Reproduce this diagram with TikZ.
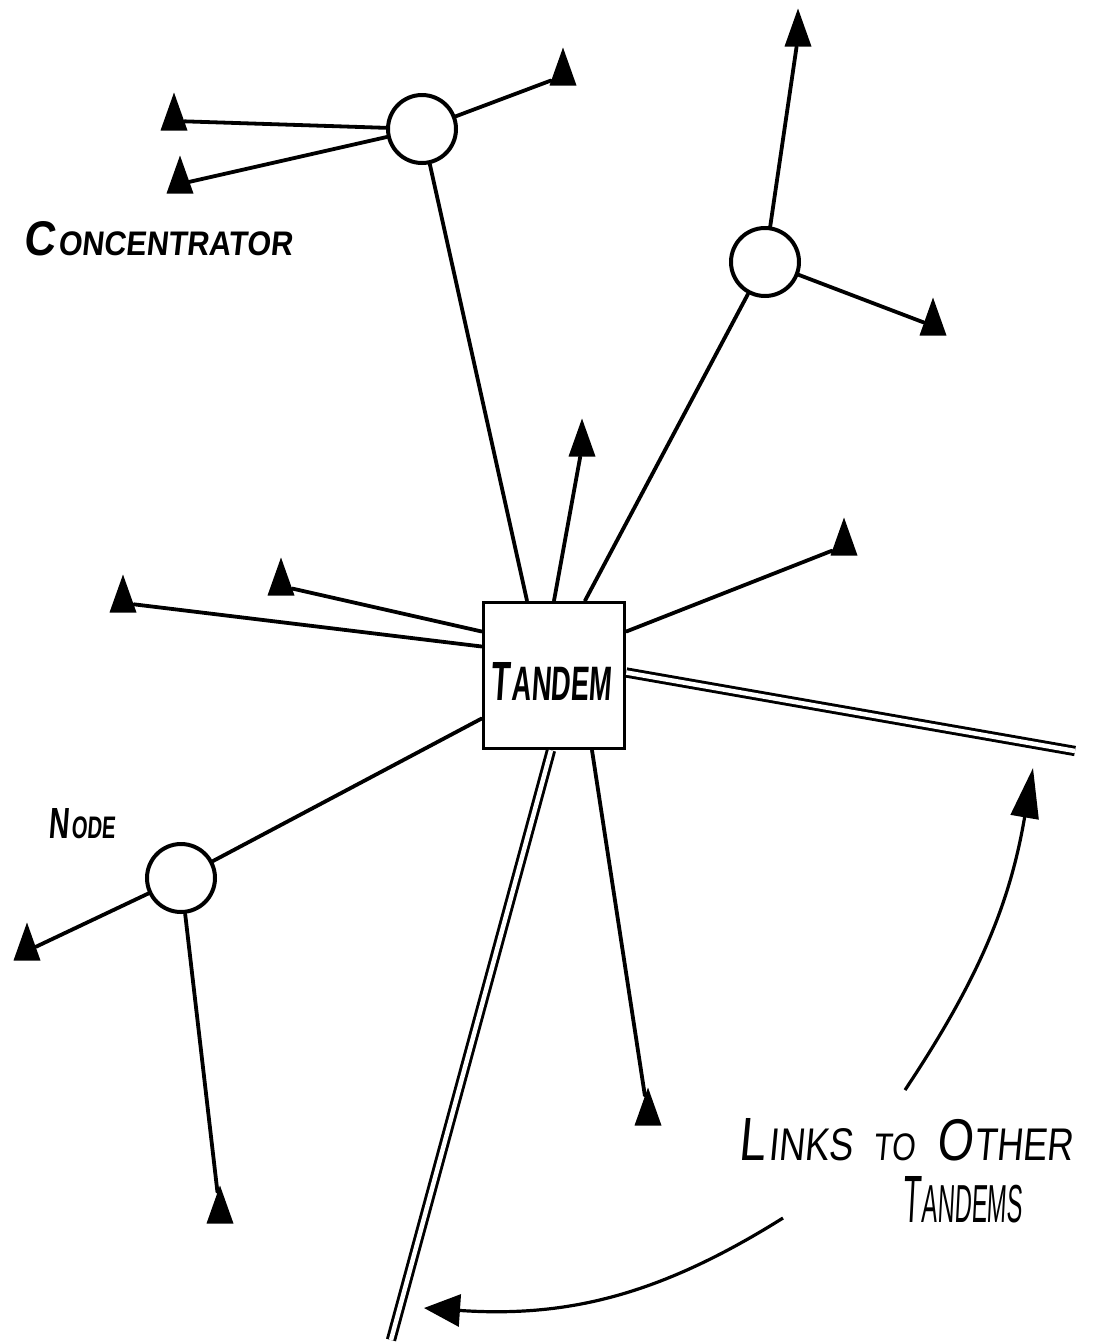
\documentclass[tikz,border=0pt]{standalone}
\usepackage{graphicx}
\usepackage{fontspec}
\newfontfamily\hand[FakeSlant=0.12]{Liberation Sans}
\newfontfamily\handbold[FakeSlant=0.12]{Liberation Sans Bold}
\usetikzlibrary{shapes.geometric,calc,arrows.meta}
\newcommand\capsz[2]{{\fontsize{#1}{#1}\selectfont #2}}
\begin{document}
\begin{tikzpicture}[x=1pt,y=-1pt,
  wire/.style={line width=3.8pt, line cap=round},
  trunk/.style={draw=black, line width=2.9pt, double=white, double distance=4.5pt},
  hub/.style={circle, draw, line width=4pt, minimum size=68pt, inner sep=0pt, fill=white},
  switchbox/.style={rectangle, draw, line width=3.6pt, minimum width=141pt, minimum height=146pt, inner sep=0pt, fill=white},
  term/.style={isosceles triangle, isosceles triangle stretches, shape border rotate=90,
    minimum width=27pt, minimum height=38pt, fill=black, inner sep=0pt, anchor=apex},
  lbl/.style={inner sep=0pt},
  pointer/.style={line width=3.2pt}]
\useasboundingbox (0,0) rectangle (1095,1342);

% central switch
\node[switchbox] (tandem) at (554,675.5) {};
\node[lbl] (tandemtxt) at (551,681) {\resizebox{120pt}{38pt}{\handbold\capsz{12}{T}\kern0.6pt\capsz{10.5}{ANDEM}}};

% concentrators and node
\node[hub] (conc1) at (422,129) {};
\node[hub] (conc2) at (765,262) {};
\node[hub] (nd) at (181,878) {};

% terminals
\node[term] (t1) at (174,92) {};
\node[term] (t2) at (180,155) {};
\node[term] (t3) at (563,47) {};
\node[term] (t4) at (798,8) {};
\node[term] (t5) at (933,297) {};
\node[term] (t6) at (582,418) {};
\node[term] (t7) at (844,517) {};
\node[term] (t8) at (123,574) {};
\node[term] (t9) at (281,557) {};
\node[term] (t10) at (648,1087) {};
\node[term] (t11) at (27,922) {};
\node[term] (t12) at (220,1185) {};

% concentrator links
\draw[wire] (conc1) -- (t1);
\draw[wire] (conc1) -- (t2);
\draw[wire] (conc1) -- (t3);
\draw[wire] (conc2) -- (t4);
\draw[wire] (conc2) -- (t5);
\draw[wire] (nd) -- (t11);
\draw[wire] (nd) -- (t12);

% links into the tandem
\draw[wire] (conc1) -- ($(tandem.north)+(-27,0)$);
\draw[wire] (t6) -- (tandem.north);
\draw[wire] (conc2) -- ($(tandem.north)+(31,0)$);
\draw[wire] (t7) -- ($(tandem.east)+(0,-44)$);
\draw[wire] (t9) -- ($(tandem.west)+(0,-44)$);
\draw[wire] (t8) -- ($(tandem.west)+(0,-29)$);
\draw[wire] (nd) -- ($(tandem.west)+(0,43)$);
\draw[wire] (t10) -- ($(tandem.south)+(38,0)$);

% inter-tandem trunks
\coordinate (trunkE) at (1075,751);
\coordinate (trunkS) at (391,1340);
\draw[trunk] ($(tandem.east)+(0,-3)$) -- (trunkE);
\draw[trunk] ($(tandem.south)+(-3,0)$) -- (trunkS);

% labels
\node[lbl] (conclbl) at (158,239) {\resizebox{268pt}{34pt}{\handbold\capsz{15}{C}\kern0.8pt\capsz{10.5}{ONCENTRATOR}}};
\node[lbl] (ndlbl) at (82,824) {\resizebox{66pt}{30pt}{\handbold\capsz{14}{N}\kern0.8pt\capsz{10}{ODE}}};
\node[lbl] (links) at (906,1140) {\resizebox{334pt}{42pt}{\hand\capsz{14}{L}\kern0.8pt\capsz{10.5}{INKS}\hspace{6pt}\capsz{8.8}{TO}\hspace{6pt}\capsz{13.5}{O}\kern0.6pt\capsz{10.5}{THER}}};
\node[lbl] (tandems) at (962,1200) {\resizebox{120pt}{46pt}{\hand\capsz{12.5}{T}\kern0.6pt\capsz{10}{ANDEMS}}};

% pointers from the label to the trunks
\coordinate (p1s) at (905,1090);
\coordinate (p1e) at (1033,768);
\coordinate (p2s) at (783,1218);
\coordinate (p2e) at (424,1308);
\draw[pointer, -{Triangle[length=50pt,width=28pt]}] (p1s) to[bend right=12] (p1e);
\draw[pointer, -{Triangle[length=36pt,width=32pt]}] (p2s) to[bend left=18] (p2e);
\end{tikzpicture}
\end{document}
